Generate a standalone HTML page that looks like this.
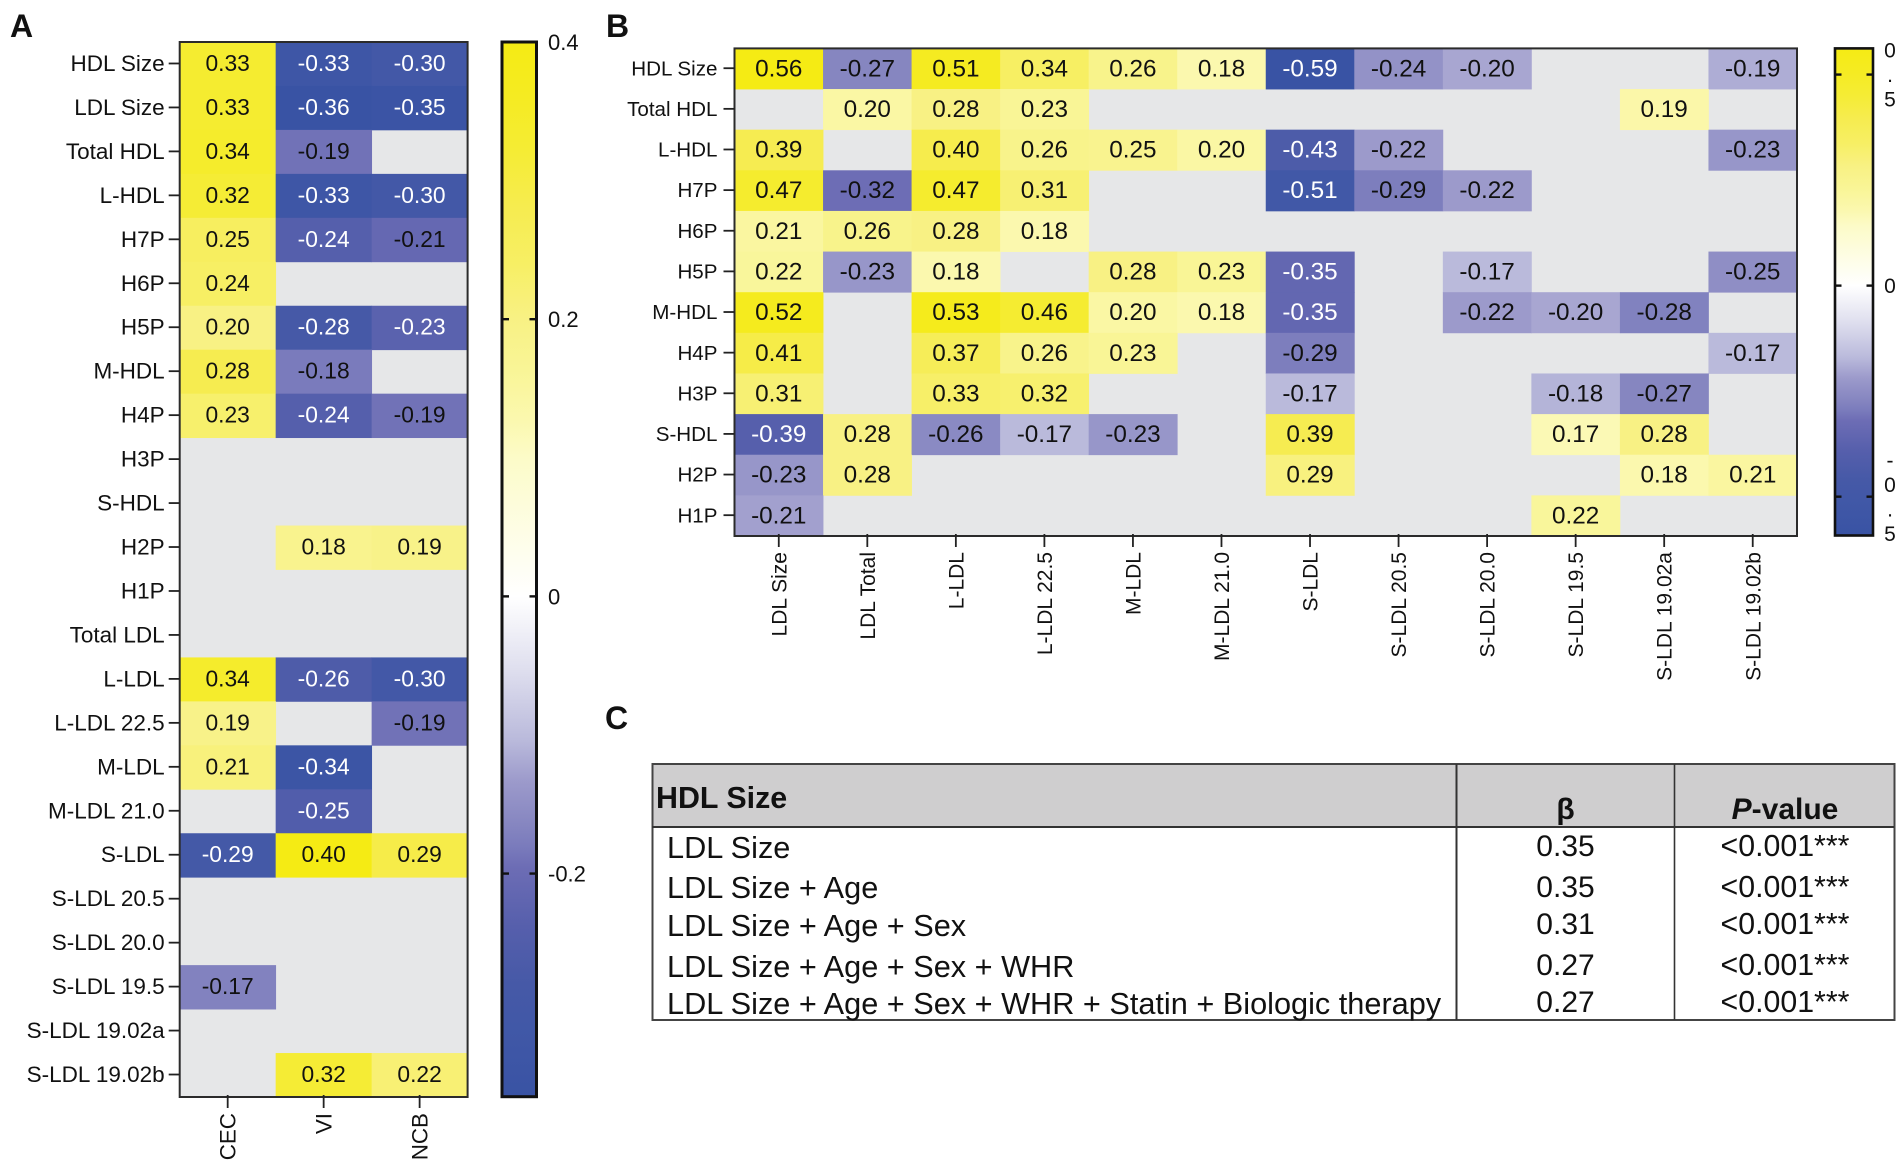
<!DOCTYPE html>
<html lang="en">
<head>
<meta charset="utf-8">
<title>HDL and LDL correlation heatmaps</title>
<style>
html,body{margin:0;padding:0;background:#fff;width:1904px;height:1162px;overflow:hidden}
svg{display:block}
text{font-family:"Liberation Sans",sans-serif;fill:#111}
</style>
</head>
<body>
<svg id="fig" width="1904" height="1162" viewBox="0 0 1904 1162" xmlns="http://www.w3.org/2000/svg">
  <rect x="0" y="0" width="1904" height="1162" fill="#ffffff"/>
  <text x="10" y="37" font-size="32" font-weight="700">A</text>
  <text x="606" y="37" font-size="32" font-weight="700">B</text>
  <text x="605" y="729" font-size="32" font-weight="700">C</text>

  <g id="panelA"></g>
  <g id="panelB"></g>

  <g>
    <rect x="652.5" y="764" width="1242" height="63" fill="#cfcecf"/>
    <rect x="652.5" y="764" width="1242" height="256" fill="none" stroke="#444" stroke-width="2"/>
    <line x1="652" y1="827" x2="1894" y2="827" stroke="#333" stroke-width="2"/>
    <line x1="1456.5" y1="764" x2="1456.5" y2="1020" stroke="#333" stroke-width="2"/>
    <line x1="1674.5" y1="764" x2="1674.5" y2="1020" stroke="#333" stroke-width="1.6"/>
    <text x="656" y="808" font-size="30.4" font-weight="700">HDL Size</text>
    <text x="1565.5" y="819" font-size="30" font-weight="700" text-anchor="middle">β</text>
    <text x="1785" y="819" font-size="30" font-weight="700" text-anchor="middle"><tspan font-style="italic">P</tspan>-value</text>

    <text x="667" y="858" font-size="30.7">LDL Size</text>
    <text x="667" y="898" font-size="30.7">LDL Size + Age</text>
    <text x="667" y="936" font-size="30.7">LDL Size + Age + Sex</text>
    <text x="667" y="977" font-size="30.7">LDL Size + Age + Sex + WHR</text>
    <text x="667" y="1014" font-size="30.7">LDL Size + Age + Sex + WHR + Statin + Biologic therapy</text>

    <text x="1565.5" y="856" font-size="30" text-anchor="middle">0.35</text>
    <text x="1565.5" y="897" font-size="30" text-anchor="middle">0.35</text>
    <text x="1565.5" y="934" font-size="30" text-anchor="middle">0.31</text>
    <text x="1565.5" y="975" font-size="30" text-anchor="middle">0.27</text>
    <text x="1565.5" y="1012" font-size="30" text-anchor="middle">0.27</text>

    <text x="1785" y="856" font-size="30.3" text-anchor="middle">&lt;0.001***</text>
    <text x="1785" y="897" font-size="30.3" text-anchor="middle">&lt;0.001***</text>
    <text x="1785" y="934" font-size="30.3" text-anchor="middle">&lt;0.001***</text>
    <text x="1785" y="975" font-size="30.3" text-anchor="middle">&lt;0.001***</text>
    <text x="1785" y="1012" font-size="30.3" text-anchor="middle">&lt;0.001***</text>
  </g>
</svg>
<script>
// ---------- Panel A data ----------
const rowsA = ["HDL Size","LDL Size","Total HDL","L-HDL","H7P","H6P","H5P","M-HDL","H4P","H3P","S-HDL","H2P","H1P","Total LDL","L-LDL","L-LDL 22.5","M-LDL","M-LDL 21.0","S-LDL","S-LDL 20.5","S-LDL 20.0","S-LDL 19.5","S-LDL 19.02a","S-LDL 19.02b"];
const colsA = ["CEC","VI","NCB"];
const valuesCEC = [0.33,0.33,0.34,0.32,0.25,0.24,0.20,0.28,0.23,null,null,null,null,null,0.34,0.19,0.21,null,-0.29,null,null,-0.17,null,null];
const valuesVI  = [-0.33,-0.36,-0.19,-0.33,-0.24,null,-0.28,-0.18,-0.24,null,null,0.18,null,null,-0.26,null,-0.34,-0.25,0.40,null,null,null,null,0.32];
const valuesNCB = [-0.30,-0.35,null,-0.30,-0.21,null,-0.23,null,-0.19,null,null,0.19,null,null,-0.30,-0.19,null,null,0.29,null,null,null,null,0.22];
const colorDomainA = [-0.361,0.4];
const barTicksA = [0.4,0.2,0,-0.2];

// ---------- Panel B data ----------
const rowsB = ["HDL Size","Total HDL","L-HDL","H7P","H6P","H5P","M-HDL","H4P","H3P","S-HDL","H2P","H1P"];
const colsB = ["LDL Size","LDL Total","L-LDL","L-LDL 22.5","M-LDL","M-LDL 21.0","S-LDL","S-LDL 20.5","S-LDL 20.0","S-LDL 19.5","S-LDL 19.02a","S-LDL 19.02b"];
const rowHdlSize  = [0.56,-0.27,0.51,0.34,0.26,0.18,-0.59,-0.24,-0.20,null,null,-0.19];
const rowTotalHdl = [null,0.20,0.28,0.23,null,null,null,null,null,null,0.19,null];
const rowLHdl     = [0.39,null,0.40,0.26,0.25,0.20,-0.43,-0.22,null,null,null,-0.23];
const rowH7P      = [0.47,-0.32,0.47,0.31,null,null,-0.51,-0.29,-0.22,null,null,null];
const rowH6P      = [0.21,0.26,0.28,0.18,null,null,null,null,null,null,null,null];
const rowH5P      = [0.22,-0.23,0.18,null,0.28,0.23,-0.35,null,-0.17,null,null,-0.25];
const rowMHdl     = [0.52,null,0.53,0.46,0.20,0.18,-0.35,null,-0.22,-0.20,-0.28,null];
const rowH4P      = [0.41,null,0.37,0.26,0.23,null,-0.29,null,null,null,null,-0.17];
const rowH3P      = [0.31,null,0.33,0.32,null,null,-0.17,null,null,-0.18,-0.27,null];
const rowSHdl     = [-0.39,0.28,-0.26,-0.17,-0.23,null,0.39,null,null,0.17,0.28,null];
const rowH2P      = [-0.23,0.28,null,null,null,null,0.29,null,null,null,0.18,0.21];
const rowH1P      = [-0.21,null,null,null,null,null,null,null,null,0.22,null,null];
const colorDomainB = [-0.592,0.562];
const barTicksB = [0.5,0,-0.5];

// ---------- helpers ----------
const NS = "http://www.w3.org/2000/svg";
function make(parent, tag, attrs, content) {
  const n = document.createElementNS(NS, tag);
  for (const k in attrs) n.setAttribute(k, attrs[k]);
  if (content !== undefined) n.textContent = content;
  parent.appendChild(n);
  return n;
}
function hex(c) {
  return "#" + c.map(function (x) { return Math.round(x).toString(16).padStart(2, "0"); }).join("");
}
const POS_RAMP = [[0,255,255,255],[0.25,252,251,200],[0.32,251,248,174],[0.41,249,245,150],[0.5,248,241,132],[0.6,247,239,100],[0.7,246,236,80],[0.8,245,236,53],[0.9,245,235,34],[1,245,235,20]];
const NEG_RAMP = [[0,255,255,255],[0.15,222,222,238],[0.29,185,185,219],[0.37,156,154,203],[0.46,133,133,192],[0.5,122,123,188],[0.54,109,109,181],[0.66,86,95,172],[0.775,70,89,167],[0.86,65,88,167],[1,57,83,164]];
function rampColor(ramp, t) {
  t = Math.max(0, Math.min(1, t));
  for (let i = 1; i < ramp.length; i++) {
    if (t <= ramp[i][0]) {
      const a = ramp[i - 1], b = ramp[i], f = (t - a[0]) / (b[0] - a[0]);
      return hex([a[1] + (b[1] - a[1]) * f, a[2] + (b[2] - a[2]) * f, a[3] + (b[3] - a[3]) * f]);
    }
  }
  return hex(ramp[ramp.length - 1].slice(1));
}
function colorFor(v, domain) {
  return v >= 0 ? rampColor(POS_RAMP, v / domain[1]) : rampColor(NEG_RAMP, v / domain[0]);
}
function labelColor(v, domain) {
  return (v < 0 && v / domain[0] > 0.585) ? "#ffffff" : "#111111";
}

// ---------- heatmap renderer ----------
function drawHeatmap(root, prefix, o) {
  const x = function (i) { return o.left + i * (o.right - o.left) / o.cols.length; };
  const y = function (j) { return o.top + j * (o.bottom - o.top) / o.rows.length; };
  const cw = (o.right - o.left) / o.cols.length;
  const ch = (o.bottom - o.top) / o.rows.length;

  const bg = make(root, "rect", { x: o.left, y: o.top, width: o.right - o.left, height: o.bottom - o.top, fill: "#e6e7e8" });
  
  

  o.rows.forEach(function (rowName, j) {
    o.cols.forEach(function (colName, i) {
      const v = o.value(j, i);
      if (v === null) return;
      const cell = make(root, "rect", { x: x(i), y: y(j), width: cw + 0.4, height: ch + 0.4, fill: colorFor(v, o.domain) });
      
      
      const t = make(root, "text", { x: x(i) + cw / 2, y: y(j) + ch / 2 + o.cellDy, "font-size": o.cellFont, "text-anchor": "middle", style: "fill:" + labelColor(v, o.domain) }, v.toFixed(2));
      
      
    });
  });

  const frame = make(root, "rect", { x: o.left, y: o.top, width: o.right - o.left, height: o.bottom - o.top, fill: "none", stroke: "#2b2b2b", "stroke-width": 2 });
  
  

  o.rows.forEach(function (rowName, j) {
    const cy = y(j) + ch / 2;
    const tick = make(root, "line", { x1: o.left - o.tickLen, x2: o.left, y1: cy - 0.5, y2: cy - 0.5, stroke: "#222", "stroke-width": 1.8 });
    
    
    const lab = make(root, "text", { x: o.left - o.labelGap, y: cy + o.rowDy, "font-size": o.rowFont, "text-anchor": "end" }, rowName);
    
    
  });

  o.cols.forEach(function (colName, i) {
    const cx = x(i) + cw / 2;
    const tick = make(root, "line", { x1: cx, x2: cx, y1: o.bottom - 2, y2: o.bottom + o.tickLen, stroke: "#222", "stroke-width": 1.8 });
    
    
    const bx = cx + o.colFont * 0.36, by = o.bottom + o.colGap;
    const lab = make(root, "text", { x: bx, y: by, "font-size": o.colFont, "text-anchor": "end", transform: "rotate(-90 " + bx + " " + by + ")" }, colName);
    
    
  });
}

function drawColorbar(root, prefix, o) {
  const barY = function (v) {
    return o.top + (o.domain[1] - v) * (o.bottom - o.top) / (o.domain[1] - o.domain[0]);
  };
  const defs = make(root, "defs", {});
  const grad = make(defs, "linearGradient", { id: prefix + "-grad", x1: 0, y1: 0, x2: 0, y2: 1 });
  const span = o.domain[1] - o.domain[0];
  const stops = [];
  POS_RAMP.forEach(function (s) { stops.push(s[0] * o.domain[1]); });
  NEG_RAMP.slice(1).forEach(function (s) { stops.push(s[0] * o.domain[0]); });
  stops.sort(function (a, b) { return b - a; });
  stops.forEach(function (v) {
    make(grad, "stop", { offset: (o.domain[1] - v) / span, "stop-color": colorFor(v, o.domain) });
  });
  const bar = make(root, "rect", { x: o.left, y: o.top, width: o.right - o.left, height: o.bottom - o.top, fill: "url(#" + prefix + "-grad)", stroke: "#111", "stroke-width": o.stroke });
  
  

  o.ticks.forEach(function (v) {
    const py = barY(v);
    if (Math.abs(py - o.top) > 2) {
      const t1 = make(root, "line", { x1: o.left, x2: o.left + o.tickLen, y1: py, y2: py, stroke: "#111", "stroke-width": 2.4 });
      
      
      const t2 = make(root, "line", { x1: o.right - o.tickLen, x2: o.right, y1: py, y2: py, stroke: "#111", "stroke-width": 2.4 });
      
      
    }
    const str = v === 0 ? "0" : String(v);
    if (o.stacked) {
      const lab = make(root, "text", { "font-size": o.labelFont, "text-anchor": "middle" });
      
      
      const chars = str.split("");
      chars.forEach(function (c, k) {
        make(lab, "tspan", { x: o.labelX, y: py + 7.5 + (k - (chars.length - 1) / 2) * 24.5 }, c);
      });
    } else {
      const lab = make(root, "text", { x: o.labelX, y: py + 8, "font-size": o.labelFont }, str);
      
      
    }
  });
}

// ---------- draw ----------
const seriesA = [valuesCEC, valuesVI, valuesNCB];
drawHeatmap(document.getElementById("panelA"), "a", {
  rows: rowsA, cols: colsA, domain: colorDomainA,
  value: function (j, i) { return seriesA[i][j]; },
  left: 179.7, right: 467.6, top: 42, bottom: 1097,
  cellFont: 22.8, cellDy: 7, rowFont: 22.5, rowDy: 7,
  colFont: 22.4, tickLen: 11, labelGap: 15, colGap: 16
});
drawColorbar(document.getElementById("panelA"), "a", {
  left: 502, right: 536.5, top: 42, bottom: 1096.7,
  domain: colorDomainA, ticks: barTicksA, tickLen: 7, stroke: 3,
  labelX: 548, labelFont: 22, stacked: false
});

const seriesB = [rowHdlSize, rowTotalHdl, rowLHdl, rowH7P, rowH6P, rowH5P, rowMHdl, rowH4P, rowH3P, rowSHdl, rowH2P, rowH1P];
drawHeatmap(document.getElementById("panelB"), "b", {
  rows: rowsB, cols: colsB, domain: colorDomainB,
  value: function (j, i) { return seriesB[j][i]; },
  left: 734.5, right: 1797, top: 48.4, bottom: 536,
  cellFont: 24.3, cellDy: 7.6, rowFont: 20.6, rowDy: 6.6,
  colFont: 21, tickLen: 11, labelGap: 17, colGap: 16
});
drawColorbar(document.getElementById("panelB"), "b", {
  left: 1835, right: 1873, top: 48.4, bottom: 535.5,
  domain: colorDomainB, ticks: barTicksB, tickLen: 6.5, stroke: 2.6,
  labelX: 1890, labelFont: 21, stacked: true
});
</script>
</body>
</html>
